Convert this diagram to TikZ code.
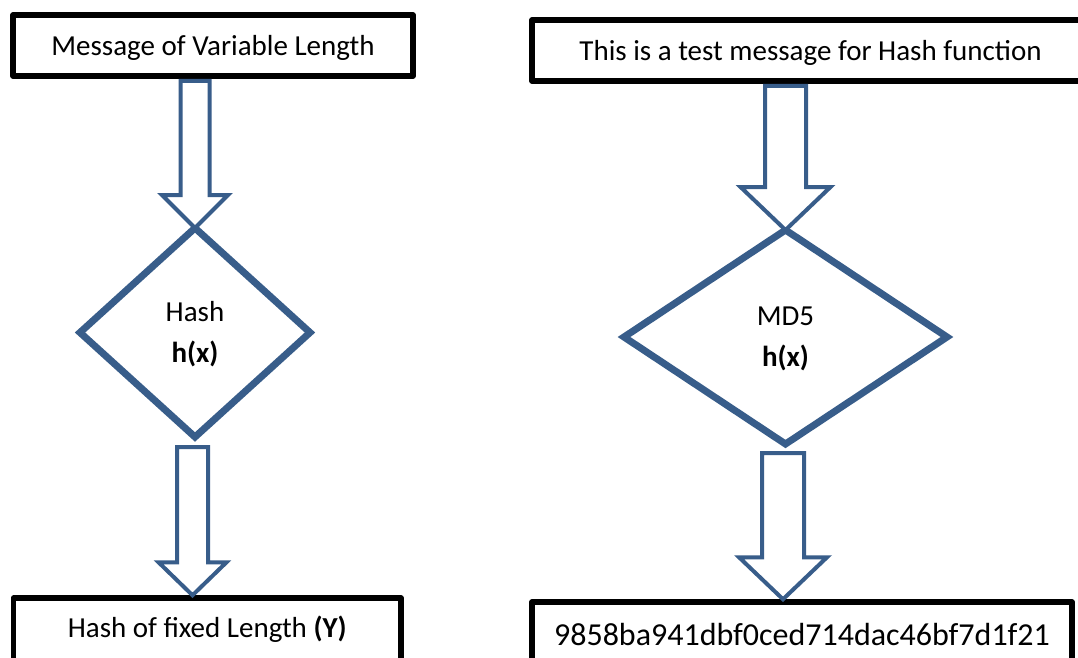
\documentclass[tikz,border=0pt]{standalone}
\usepackage{fontspec}
\setmainfont{Carlito}
\usetikzlibrary{shapes.geometric,calc}
\definecolor{flowblue}{RGB}{56,93,138}
\tikzset{
  box/.style={draw=black, line width=5.5pt, line join=round, fill=white,
    inner sep=0pt, minimum height=61pt, font=\fontsize{29}{35}\selectfont},
  decision/.style={diamond, draw=flowblue, line width=7pt, line join=miter,
    fill=white, inner sep=0pt, outer sep=0pt,
    font=\fontsize{29}{41}\selectfont, align=center},
  blockarr/.style={draw=flowblue, line width=4pt, fill=white, line join=miter},
}
% #1 shaft top point, #2 tip point, #3 shaft half width, #4 head half width, #5 head length
\newcommand\blockarrow[5]{%
  \draw[blockarr] let \p1=(#1), \p2=(#2) in
    (\x2-#3pt,\y1) -- (\x2-#3pt,\y2+#5pt) -- (\x2-#4pt,\y2+#5pt) -- (\x2,\y2)
    -- (\x2+#4pt,\y2+#5pt) -- (\x2+#3pt,\y2+#5pt) -- (\x2+#3pt,\y1) -- cycle;}
\begin{document}
\begin{tikzpicture}[x=1pt,y=-1pt]
  \path[use as bounding box, clip] (0,0) rectangle (1078,657);
  \fill[white] (0,0) rectangle (1078,657);

  % left column
  \node[box, minimum width=400pt, text height=22pt, text depth=3pt] (lt) at (213,45.5)
    {Message of Variable Length};
  \node[decision, minimum width=230pt, minimum height=209pt] (ld) at (195,332.5)
    {\rule{0pt}{26pt}Hash\\\textbf{h(x)}\rule[-8pt]{0pt}{8pt}};
  \node[box, minimum width=387.5pt, minimum height=64pt, text height=20pt, text depth=6pt] (lb) at (207.25,630)
    {Hash of fixed Length \textbf{(Y)}};

  % right column
  \node[box, minimum width=557pt, text height=22pt, text depth=3pt] (rt) at (810.5,50.5)
    {This is a test message for Hash function};
  \node[decision, minimum width=323pt, minimum height=214pt] (rd) at (785.5,337)
    {\rule{0pt}{26pt}MD5\\\textbf{h(x)}\rule[-8pt]{0pt}{8pt}};
  \node[box, minimum width=540pt, minimum height=64pt, font=\fontsize{32}{38}\selectfont,
    text height=25pt, text depth=3pt] (rb) at (802,634)
    {9858ba941dbf0ced714dac46bf7d1f21};

  % block arrows
  \blockarrow{$(lt.south)+(0,2)$}{ld.north}{14.5}{33}{33}
  \blockarrow{$(ld.south)+(0,10)$}{$(ld.south |- lb.north)+(-2.5,0)$}{15.5}{34}{33}
  \blockarrow{$(rt.south)+(0,2)$}{rd.north}{20.5}{45}{43}
  \blockarrow{$(rd.south)+(0,9)$}{$(rd.south |- rb.north)+(-2.5,0)$}{21}{44}{42}
\end{tikzpicture}
\end{document}
